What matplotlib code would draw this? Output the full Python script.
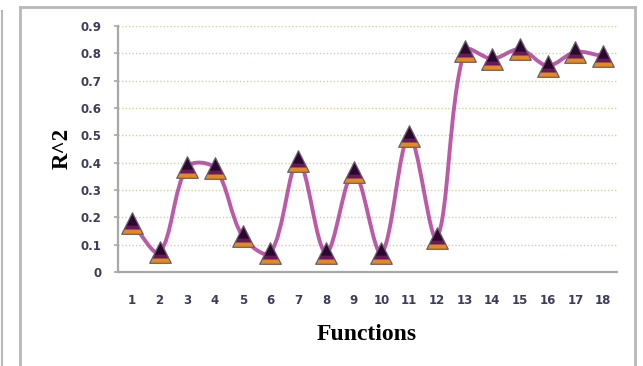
import numpy as np
import matplotlib
matplotlib.use('Agg')
import matplotlib.pyplot as plt
from matplotlib.path import Path
from matplotlib.patches import PathPatch
from matplotlib.lines import Line2D

# 数据
functions = list(range(1, 19))
r2 = [0.18, 0.073, 0.385, 0.38, 0.13, 0.07, 0.405, 0.07, 0.365,
      0.07, 0.497, 0.125, 0.81, 0.78, 0.815, 0.755, 0.805, 0.79]
yticks = [0, 0.1, 0.2, 0.3, 0.4, 0.5, 0.6, 0.7, 0.8, 0.9]
ytick_labels = ['0', '0.1', '0.2', '0.3', '0.4', '0.5', '0.6', '0.7', '0.8', '0.9']

fig = plt.figure(figsize=(6.43, 3.66), dpi=100)
ax = fig.add_axes([0.1835, 0.2568, 0.7761, 0.672])
ax.set_xlim(0.5, 18.5)
ax.set_ylim(0, 0.9)

# 网格与坐标轴
for v in yticks[1:]:
    ax.axhline(v, color='#D6CFA0', lw=1, ls=(0, (1, 1.5)), zorder=1)
for s in ['top', 'right']:
    ax.spines[s].set_visible(False)
for s in ['left', 'bottom']:
    ax.spines[s].set_color('#A8A8A8')
    ax.spines[s].set_linewidth(1.6)
ax.set_yticks(yticks)
ax.set_yticklabels(ytick_labels)
ax.set_xticks(functions)
ax.set_xticklabels([str(f) for f in functions])
ax.tick_params(axis='y', length=3, width=1.2, color='#A8A8A8', pad=9,
               labelsize=8.5, labelcolor='#3C3C5C')
ax.tick_params(axis='x', length=0, pad=16, labelsize=8.5, labelcolor='#3C3C5C')
for lab in ax.get_xticklabels() + ax.get_yticklabels():
    lab.set_fontweight('bold')

# 平滑曲线（类似 Excel 的平滑线）
fig.canvas.draw()
pts = ax.transData.transform(np.column_stack([functions, r2]))
n = len(pts)
verts = [pts[0]]
codes = [Path.MOVETO]
for i in range(n - 1):
    p0 = pts[i - 1] if i > 0 else pts[i]
    p1 = pts[i]
    p2 = pts[i + 1]
    p3 = pts[i + 2] if i + 2 < n else pts[i + 1]
    l0 = np.linalg.norm(p1 - p0)
    l1 = np.linalg.norm(p2 - p1)
    l2 = np.linalg.norm(p3 - p2)
    f1 = l1 / (l0 + l1) / 1.5 if l0 > 0 else 1 / 3
    f2 = l1 / (l1 + l2) / 1.5 if l2 > 0 else 1 / 3
    c1 = p1 + (p2 - p0) * f1 / 2 if i > 0 else p1 + (p2 - p1) / 3
    c2 = p2 - (p3 - p1) * f2 / 2 if i + 2 < n else p2 - (p2 - p1) / 3
    verts += [c1, c2, p2]
    codes += [Path.CURVE4] * 3
curve = Path(ax.transData.inverted().transform(np.array(verts)), codes)
ax.add_patch(PathPatch(curve, fill=False, edgecolor='#B5479F', lw=2.8,
                       alpha=0.9, zorder=3, transform=ax.transData))

# 三角形标记
tri = Path([(0, 1), (-1, -1), (1, -1), (0, 1)],
           [Path.MOVETO, Path.LINETO, Path.LINETO, Path.CLOSEPOLY])
mid = Path([(1, 1), (-0.775, -0.55), (0.775, -0.55), (0.6, -0.2), (-0.6, -0.2), (-0.775, -0.55)],
           [Path.MOVETO, Path.MOVETO, Path.LINETO, Path.LINETO, Path.LINETO, Path.CLOSEPOLY])
bot = Path([(-1, -1), (1, -1), (0.775, -0.55), (-0.775, -0.55), (-1, -1)],
           [Path.MOVETO, Path.LINETO, Path.LINETO, Path.LINETO, Path.CLOSEPOLY])
ms = 15.5
ax.plot(functions, r2, ls='none', marker=tri, ms=ms, mfc='#2C0830', mec='none', zorder=4)
ax.plot(functions, r2, ls='none', marker=mid, ms=ms, mfc='#6A1858', mec='none', zorder=5)
ax.plot(functions, r2, ls='none', marker=bot, ms=ms, mfc='#E38B1F', mec='none', zorder=6)
ax.plot(functions, r2, ls='none', marker=tri, ms=ms, mfc='none', mec='#6F5F72',
        mew=0.9, zorder=7)

# 轴标题
fig.text(0.571, 0.087, 'Functions', ha='center', va='center', fontsize=17,
         fontweight='bold', family='Liberation Serif')
fig.text(0.0964, 0.5956, 'R^2', ha='center', va='center', fontsize=16.5, rotation=90,
         fontweight='bold', family='Liberation Serif')

# 外框
frame_c = '#B8B8B8'
fig.add_artist(Line2D([20 / 643, 20 / 643], [0, 1 - 7 / 366], color=frame_c, lw=2))
fig.add_artist(Line2D([20 / 643, 635 / 643], [1 - 7 / 366, 1 - 7 / 366], color=frame_c, lw=2))
fig.add_artist(Line2D([635 / 643, 635 / 643], [0, 1 - 7 / 366], color=frame_c, lw=2))
fig.add_artist(Line2D([1.5 / 643, 1.5 / 643], [0, 1 - 11 / 366], color=frame_c, lw=1.5))

plt.savefig('out.png', dpi=100)
